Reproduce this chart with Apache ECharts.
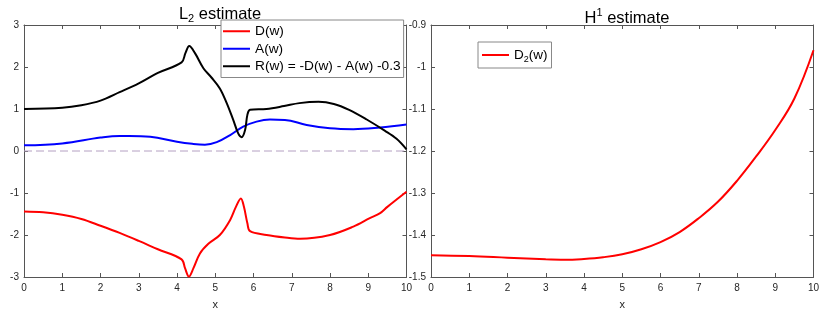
<!DOCTYPE html>
<html><head><meta charset="utf-8">
<script src="https://cdn.jsdelivr.net/npm/echarts@6/dist/echarts.min.js"></script>
<style>html,body{margin:0;padding:0;background:#fff}#c{width:830px;height:315px}</style>
</head><body><div id="c"></div><script>
// ---- data ----
const xD = [0, 0.5, 1, 1.5, 2, 2.5, 3, 3.5, 4.12, 4.21, 4.31, 4.43, 4.6, 4.82, 5.12, 5.39, 5.54, 5.67, 5.75, 5.84, 5.91, 6.34, 6.82, 7.22, 8.0, 8.61, 9.04, 9.31, 9.5, 10];
const yD = [-1.44, -1.46, -1.52, -1.62, -1.78, -1.95, -2.14, -2.34, -2.58, -2.79, -2.99, -2.79, -2.44, -2.21, -2.0, -1.64, -1.33, -1.13, -1.33, -1.72, -1.91, -2.0, -2.06, -2.09, -2.0, -1.8, -1.6, -1.48, -1.33, -0.97];

const xA = [0, 1, 2, 2.5, 2.75, 3.3, 4.0, 4.4, 4.73, 5.04, 5.39, 5.73, 6.08, 6.43, 6.82, 7.39, 8.0, 8.61, 9.31, 10];
const yA = [0.135, 0.18, 0.32, 0.36, 0.36, 0.34, 0.22, 0.17, 0.15, 0.21, 0.38, 0.58, 0.70, 0.75, 0.74, 0.62, 0.54, 0.52, 0.56, 0.63];

const xR = [0, 1, 1.5, 2, 2.5, 3, 3.5, 4.12, 4.22, 4.32, 4.47, 4.69, 4.9, 5.12, 5.3, 5.47, 5.6, 5.69, 5.78, 5.84, 5.91, 6.34, 6.8, 7.2, 7.7, 8.1, 8.5, 8.96, 9.44, 9.74, 10];
const yR = [1.0, 1.03, 1.09, 1.2, 1.4, 1.61, 1.86, 2.11, 2.33, 2.5, 2.33, 1.97, 1.75, 1.49, 1.14, 0.74, 0.42, 0.33, 0.5, 0.86, 0.98, 1.0, 1.07, 1.14, 1.17, 1.12, 0.98, 0.75, 0.48, 0.29, 0.04];

const xZero = [0, 10];
const yZero = [0, 0];

const xD2 = [0, 1, 2, 3, 3.5, 4, 4.5, 5, 5.5, 6, 6.5, 7, 7.5, 8, 8.5, 9, 9.5, 10];
const yD2 = [-1.448, -1.45, -1.454, -1.458, -1.459, -1.457, -1.453, -1.446, -1.434, -1.417, -1.393, -1.36, -1.321, -1.271, -1.213, -1.15, -1.075, -0.96];

const names = ['D(w)', 'A(w)', 'R(w) = -D(w) - A(w) -0.3', 'D2(w)'];

const zip = (xs, ys) => xs.map((x, i) => [x, ys[i]]);

const AX = '#555';
const LBL = '#262626';
const FONT = 'Liberation Sans, Arial, Helvetica, sans-serif';

function xAx(grid, pos, labels) {
  return {
    gridIndex: grid, type: 'value', min: 0, max: 10, interval: 1, position: pos,
    name: labels ? 'x' : '', nameLocation: 'middle', nameGap: 22,
    nameTextStyle: { color: LBL, fontSize: 11, fontFamily: FONT },
    axisLine: { onZero: false, lineStyle: { color: AX, width: 1 } },
    axisTick: { inside: true, length: 4, lineStyle: { color: AX } },
    axisLabel: { show: labels, color: LBL, fontSize: 10, margin: 6, fontFamily: FONT },
    splitLine: { show: false }
  };
}
function yAx(grid, pos, labels, min, max, interval) {
  return {
    gridIndex: grid, type: 'value', min: min, max: max, interval: interval, position: pos,
    axisLine: { onZero: false, lineStyle: { color: AX, width: 1 } },
    axisTick: { inside: true, length: 4, lineStyle: { color: AX } },
    axisLabel: { show: labels, color: LBL, fontSize: 10, margin: 5, fontFamily: FONT },
    splitLine: { show: false }
  };
}

const chart = echarts.init(document.getElementById('c'), null, { renderer: 'canvas' });
const option = {
  animation: false,
  backgroundColor: '#fff',
  title: [
    {
      text: '{m|L}{s|2}{m| estimate}', left: 215, top: -1, textAlign: 'center',
      textStyle: { fontWeight: 'normal', rich: {
        m: { fontSize: 16.5, fontFamily: FONT, fontWeight: 'normal', color: '#000', lineHeight: 20 },
        s: { fontSize: 11, fontFamily: FONT, fontWeight: 'normal', color: '#000', lineHeight: 10, padding: [10, 0, 0, 0] }
      } }
    },
    {
      text: '{m|H}{s|1}{m| estimate}', left: 622, top: 3, textAlign: 'center',
      textStyle: { fontWeight: 'normal', rich: {
        m: { fontSize: 16.5, fontFamily: FONT, fontWeight: 'normal', color: '#000', lineHeight: 20 },
        s: { fontSize: 11, fontFamily: FONT, fontWeight: 'normal', color: '#000', lineHeight: 10, padding: [0, 0, 10, 0] }
      } }
    }
  ],
  legend: [
    {
      data: names.slice(0, 3), orient: 'vertical', left: 221, top: 20,
      padding: [4, 3, 4, 2], itemGap: 3, itemWidth: 27, itemHeight: 2, icon: 'rect',
      backgroundColor: '#fff', borderColor: '#888', borderWidth: 1, borderRadius: 0,
      textStyle: { fontSize: 13.7, fontFamily: FONT, color: '#000', lineHeight: 14.5 }, z: 10
    },
    {
      data: [names[3]], orient: 'vertical', left: 478, top: 42,
      padding: [4, 4, 4, 4], itemWidth: 27, itemHeight: 2, icon: 'rect',
      backgroundColor: '#fff', borderColor: '#888', borderWidth: 1, borderRadius: 0,
      formatter: () => '{m|D}{s|2}{m|(w)}',
      textStyle: { fontSize: 13, fontFamily: FONT, color: '#000', rich: {
        m: { fontSize: 13.5, fontFamily: FONT, color: '#000', lineHeight: 18 },
        s: { fontSize: 9, fontFamily: FONT, color: '#000', lineHeight: 9, padding: [9, 0, 0, 0] }
      } }, z: 10
    }
  ],
  grid: [
    { left: 24, top: 25, width: 382.5, height: 252 },
    { left: 431, top: 25, width: 382.5, height: 252 }
  ],
  xAxis: [xAx(0, 'bottom', true), xAx(0, 'top', false), xAx(1, 'bottom', true), xAx(1, 'top', false)],
  yAxis: [
    yAx(0, 'left', true, -3, 3, 1), yAx(0, 'right', false, -3, 3, 1),
    yAx(1, 'left', true, -1.5, -0.9, 0.1), yAx(1, 'right', false, -1.5, -0.9, 0.1)
  ],
  series: [
    { name: 'zero', type: 'line', xAxisIndex: 0, yAxisIndex: 0, data: zip(xZero, yZero), symbol: 'none', silent: true,
      lineStyle: { color: '#b4a0c2', width: 1, type: [8, 4] } },
    { name: names[0], type: 'line', xAxisIndex: 0, yAxisIndex: 0, data: zip(xD, yD), symbol: 'none', smooth: 0.35,
      lineStyle: { color: '#ff0000', width: 2 }, itemStyle: { color: '#ff0000' } },
    { name: names[1], type: 'line', xAxisIndex: 0, yAxisIndex: 0, data: zip(xA, yA), symbol: 'none', smooth: 0.4,
      lineStyle: { color: '#0000ff', width: 2 }, itemStyle: { color: '#0000ff' } },
    { name: names[2], type: 'line', xAxisIndex: 0, yAxisIndex: 0, data: zip(xR, yR), symbol: 'none', smooth: 0.35,
      lineStyle: { color: '#000000', width: 2 }, itemStyle: { color: '#000000' } },
    { name: names[3], type: 'line', xAxisIndex: 2, yAxisIndex: 2, data: zip(xD2, yD2), symbol: 'none', smooth: 0.4,
      lineStyle: { color: '#ff0000', width: 2 }, itemStyle: { color: '#ff0000' } }
  ]
};
chart.setOption(option);
</script></body></html>
